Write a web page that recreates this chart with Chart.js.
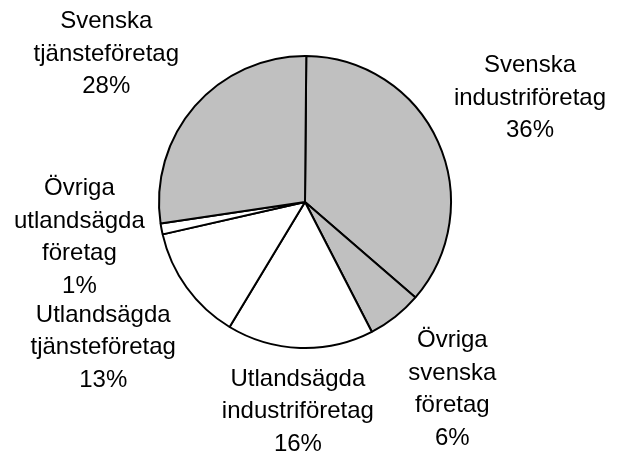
<!DOCTYPE html>
<html lang="sv">
<head>
<meta charset="utf-8">
<script src="https://cdn.jsdelivr.net/npm/chart.js@4.4.1/dist/chart.umd.min.js"></script>
<style>
  html, body { margin: 0; padding: 0; background: #fff; }
  #wrap { width: 620px; height: 452px; }
</style>
</head>
<body>
<div id="wrap"><canvas id="grafik" width="620" height="452"></canvas></div>
<script>
// etiketter (radbrytning som i originalet)
const kategorier = [
  ['Svenska', 'industriföretag'],
  ['Övriga', 'svenska', 'företag'],
  ['Utlandsägda', 'industriföretag'],
  ['Utlandsägda', 'tjänsteföretag'],
  ['Övriga', 'utlandsägda', 'företag'],
  ['Svenska', 'tjänsteföretag']
];
// andelar i procent
const andelar = [36.2, 6.1, 16.2, 12.8, 1.2, 27.5];
const farger = ['#c0c0c0', '#c0c0c0', '#ffffff', '#ffffff', '#ffffff', '#c0c0c0'];

const etiketter = {
  id: 'etiketter',
  afterDatasetsDraw(chart) {
    const ctx = chart.ctx;
    const meta = chart.getDatasetMeta(0);
    const radhojd = 32.5;
    const minTopp = 13;      // etiketterna hålls inom diagramytan
    const kant = 14;         // marginal mot vänster/höger kant
    const minAvstand = 29;   // minsta avstånd mellan rader i grannetiketter
    ctx.save();
    ctx.font = '24px "Liberation Sans", Arial, sans-serif';
    ctx.fillStyle = '#000';
    ctx.textAlign = 'center';
    ctx.textBaseline = 'middle';

    const glid = (e, nyY) => {
      e.ly = nyY;
      const dy = e.ly - e.y;
      e.lx = e.x + Math.sign(e.lx - e.x) * Math.sqrt(Math.max(e.d * e.d - dy * dy, 0));
    };

    const lista = meta.data.map((arc, i) => {
      const { x, y, startAngle, endAngle, outerRadius } =
        arc.getProps(['x', 'y', 'startAngle', 'endAngle', 'outerRadius'], true);
      const mitt = (startAngle + endAngle) / 2;
      const rader = [...kategorier[i], Math.round(andelar[i]) + '%'];
      const bredd = Math.max(...rader.map(r => ctx.measureText(r).width));
      const hojd = (rader.length - 1) * radhojd + 17;
      const cx = Math.cos(mitt), sy = Math.sin(mitt);
      // avstånd: radie + mellanrum + etikettrutans utsträckning åt det hållet
      const d = outerRadius + 20 + Math.abs(cx) * bredd / 2 + Math.abs(sy) * hojd / 2;
      const e = { i, x, y, d, rader, bredd, lx: x + cx * d, ly: y + sy * d };
      if (e.ly - hojd / 2 < minTopp) glid(e, minTopp + hojd / 2);
      return e;
    });

    // krockar: den mindre tårtbitens etikett flyttas undan
    for (const a of lista) {
      for (const b of lista) {
        if (a === b || andelar[a.i] >= andelar[b.i]) continue;
        if (Math.abs(a.lx - b.lx) > (a.bredd + b.bredd) / 2) continue;
        const na = (a.rader.length - 1) * radhojd / 2;
        const nb = (b.rader.length - 1) * radhojd / 2;
        if (a.ly < b.ly) {
          const glapp = (b.ly - nb) - (a.ly + na);
          if (glapp < minAvstand) glid(a, a.ly - (minAvstand - glapp));
        } else {
          const glapp = (a.ly - na) - (b.ly + nb);
          if (glapp < minAvstand) glid(a, a.ly + (minAvstand - glapp));
        }
      }
    }

    const breddYta = chart.width;
    lista.forEach(e => {
      e.lx = Math.max(e.lx, kant + e.bredd / 2);
      e.lx = Math.min(e.lx, breddYta - kant - e.bredd / 2);
      e.rader.forEach((r, j) => {
        ctx.fillText(r, e.lx, e.ly + (j - (e.rader.length - 1) / 2) * radhojd);
      });
    });
    ctx.restore();
  }
};

new Chart(document.getElementById('grafik'), {
  type: 'pie',
  data: {
    labels: kategorier.map(k => k.join(' ')),
    datasets: [{
      data: andelar,
      backgroundColor: farger,
      borderColor: '#000',
      borderWidth: 2,
      radius: 146
    }]
  },
  options: {
    responsive: false,
    animation: false,
    rotation: 0.5,
    layout: { padding: { left: 0, right: 10, top: 0, bottom: 48 } },
    plugins: {
      legend: { display: false },
      tooltip: { enabled: false }
    }
  },
  plugins: [etiketter]
});
</script>
</body>
</html>
